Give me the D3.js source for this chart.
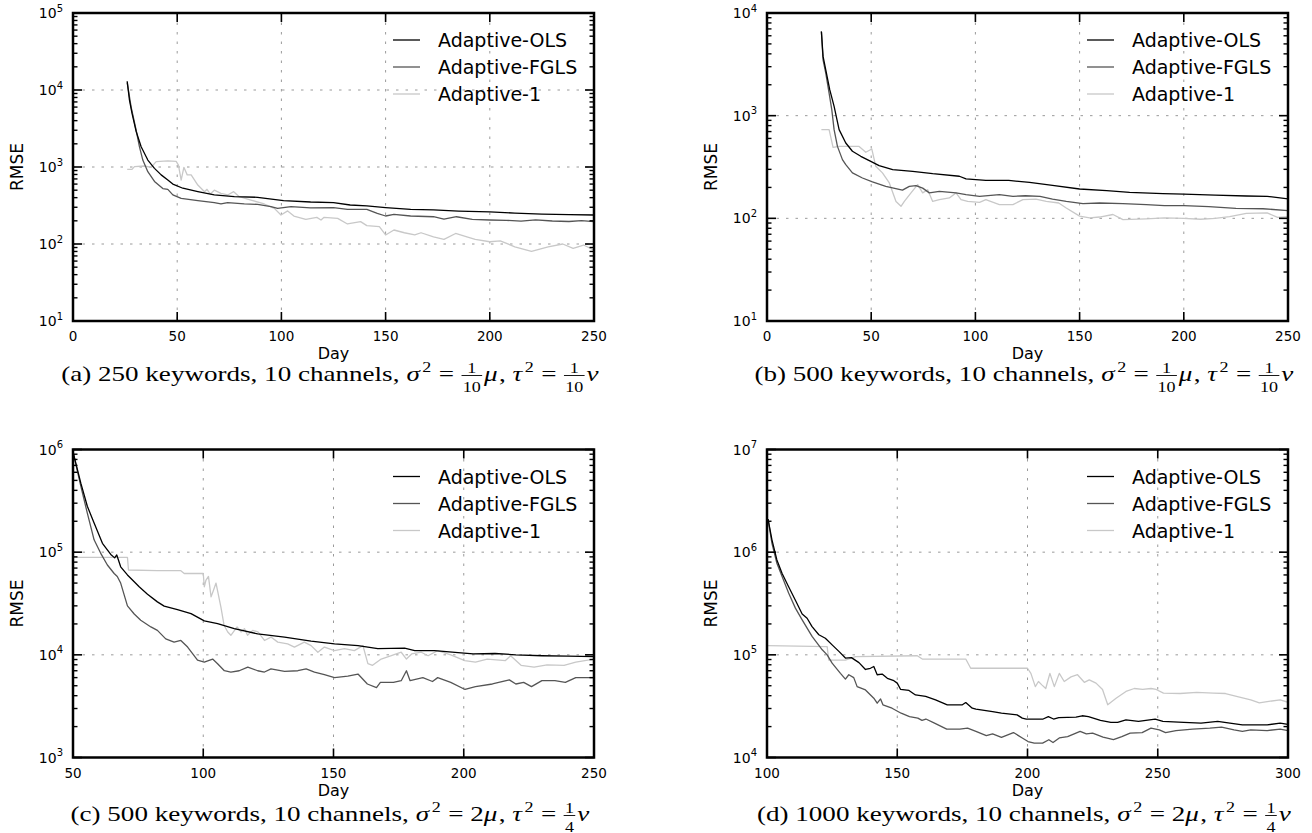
<!DOCTYPE html>
<html>
<head>
<meta charset="utf-8">
<script src="https://cdn.jsdelivr.net/npm/d3@7"></script>
<style>
body { margin: 0; background: #fff; }
</style>
</head>
<body>
<svg id="chart" width="1312" height="833"></svg>
<script>
// Nombres y colores de las series
const seriesNames = ["Adaptive-OLS", "Adaptive-FGLS", "Adaptive-1"];
const seriesColors = ["#000000", "#555555", "#c8c8c8"];

// (a) 250 keywords — [día, RMSE]
const olsA = [[26,13000],[27.1,7400],[28.3,5000],[30.3,2900],[32.7,1830],[35.9,1230],[39.1,960],[42.3,790],[45.5,680],[47.9,600],[52.7,530],[59.9,480],[67.8,435],[77.4,412],[88.6,404],[101,366],[114,351],[125,344],[133,321],[141,312],[150,297],[162,282],[173,277],[185,268],[200,262],[212,252],[225,245],[238,241],[250,238]];
const fglsA = [[26,12500],[27.9,6000],[30.3,3000],[31.9,1830],[33.5,1230],[35.9,870],[39.1,650],[43.1,525],[45.5,513],[47.9,435],[51.9,392],[59.9,366],[67.8,344],[71,331],[74.2,344],[82.2,331],[88.6,327],[95,305],[98.2,290],[104.6,305],[114,294],[125,297],[131.7,282],[141,282],[146,250],[150,231],[154,243],[162,231],[173,226],[178,211],[184,226],[191.6,209],[200,205],[208,203],[215,198],[222,206],[230,199],[238,196],[244,201],[250,195]];
const oneA = [[26,930],[28.3,930],[29.5,1010],[34.3,1030],[37.5,990],[39.9,1175],[45.5,1200],[49.5,1185],[50.6,1060],[51.9,676],[53.2,990],[54.8,790],[56.7,790],[59.9,583],[63.1,478],[64.3,513],[65.9,445],[67.8,500],[71,455],[74.2,433],[77.1,478],[79.8,412],[85.4,372],[91.8,331],[96.6,290],[99.8,238],[103,269],[106,231],[111.7,209],[117,222],[119,205],[120.5,222],[127,215],[131.7,182],[138,195],[141,173],[147,168],[150,131],[154,152],[159,140],[164,131],[167,140],[173,124],[178,115],[183.6,137],[189,124],[193,115],[200,107],[205,110],[212,92],[220,80],[228,92],[235,100],[240,88],[245,97],[250,83]];

// (b) 500 keywords, sigma^2 = mu/10
const olsB = [[26.1,6600],[26.9,3780],[28.2,2800],[30.1,1790],[32.2,1230],[34.6,731],[37.8,542],[41,450],[45,402],[49.8,359],[53.8,326],[60.3,298],[69.9,287],[79.5,272],[92.3,257],[95.5,242],[105,234],[116,234],[126,224],[137,209],[150,193],[163,186],[174,179],[190,174],[200,172],[215,168],[230,165],[240,164],[250,155]];
const fglsB = [[26.1,6600],[26.9,3500],[28.2,2600],[29.8,1660],[31.1,1140],[32.2,731],[33.8,502],[36.2,373],[37.8,333],[41,277],[45.8,247],[50.6,226],[57,205],[65,188],[68.3,205],[71.5,208],[74.7,197],[77.9,177],[82.7,183],[90.7,177],[95.5,170],[102,164],[111.5,170],[118,164],[124,166],[131,164],[137,154],[143.6,146],[151.6,139],[159.6,141],[170.8,139],[182,136],[190.7,133],[200,133],[212,130],[225,125],[238,124],[250,119]];
const oneB = [[26.1,731],[29.8,731],[31.7,492],[34.6,502],[44.2,502],[47.4,440],[50.3,473],[52.2,321],[55.4,277],[58.7,221],[61.9,146],[64.3,131],[65.9,146],[69.1,177],[72.3,213],[74.7,177],[77.1,190],[79.5,146],[82.7,152],[87.5,158],[90.7,177],[93.1,152],[96.3,146],[102,143],[105,152],[111.5,136],[118,136],[122.8,152],[129,154],[134,146],[140,141],[143.6,126],[150,105],[154.8,101],[159.6,103],[166,109],[170.8,97],[182,99],[190.7,101],[200,100],[208,98],[215,100],[222,104],[230,112],[240,113],[245,102],[250,104]];

// (c) 500 keywords, sigma^2 = 2 mu
const olsC = [[50,950000],[53,470000],[55.5,280000],[58.1,192000],[61.3,122000],[64.5,95000],[66,88000],[66.8,94000],[68.3,72000],[70.9,60000],[73.5,51500],[75.4,46000],[78.6,39000],[82.4,32800],[85,29800],[90.1,27600],[95.3,25200],[100.4,21400],[105.5,20100],[111.9,18000],[120.9,16000],[131.2,14900],[141.4,13600],[150.4,12800],[159.4,12300],[167,11500],[177.3,11600],[181.2,11000],[188.8,11000],[197.8,10500],[203.6,10200],[212,10300],[220,10000],[230,9800],[240,9700],[250,9600]];
const fglsC = [[50,950000],[53,440000],[55.5,240000],[58.1,132000],[60.6,98000],[63.2,75000],[65.8,62000],[67,58000],[68.3,50000],[70.9,30000],[73.5,25000],[76,21700],[79.9,18700],[82.4,17300],[85.6,14300],[88.8,13300],[91.4,13800],[94,11900],[97.8,8900],[100.4,8500],[103.6,9100],[105.5,8200],[108.1,7000],[110.6,6800],[113.8,7000],[117.1,7600],[120.9,7000],[123.5,6800],[126,7300],[131.2,6900],[136.3,7000],[139.5,7300],[142.7,6800],[146.5,6400],[150.4,6000],[155.5,6200],[159.4,6500],[163,5200],[166.5,4800],[168,5400],[173,5400],[176,5600],[178,7000],[179.4,5600],[184.3,6000],[188,5500],[190,6000],[195,5400],[200.5,4600],[204.5,4900],[211,5200],[217.5,5700],[220,5200],[223,5400],[226,4900],[230,5600],[235,5600],[239,5400],[243,6000],[250,6000]];
const oneC = [[50,89000],[70.9,89000],[71.3,67000],[82.4,66000],[91.4,66000],[92.7,62000],[100,62000],[100.4,46000],[101,53000],[102,58000],[103,36700],[104,43000],[104.9,50000],[106.8,29000],[108,19400],[109.4,16700],[110.6,15500],[113,18700],[114.5,16700],[115.8,18000],[117,15500],[119,17300],[121,16700],[123.5,13800],[126,14900],[128.6,13300],[132.4,12800],[135,11900],[138.8,13300],[141.4,12300],[144,10600],[146.5,11900],[150.4,11000],[154.2,11500],[158,11000],[161.3,12300],[163.2,8200],[165,7900],[168.3,9100],[172.2,9800],[176,10600],[178,9100],[180,10200],[183.7,10600],[186.3,9800],[190,11000],[195,10000],[200.4,8800],[204.5,8500],[209,9100],[216,8800],[218,9800],[222,7900],[227,7600],[232,8000],[238.5,7900],[243,8500],[250,9100]];

// (d) 1000 keywords
const olsD = [[100.4,2100000],[101.9,1320000],[103.8,840000],[105.8,620000],[108.3,460000],[110.9,340000],[113.5,250000],[115.4,227000],[117.3,188000],[119.9,157000],[122.4,145000],[125,125000],[127.6,108000],[130.1,93000],[132.4,94000],[135.3,84000],[137.8,72000],[139.7,74000],[141,77000],[142.3,64000],[144.2,65000],[146.2,59000],[148.7,56000],[150,53000],[151.3,46000],[154.5,45000],[157,40700],[160.9,39300],[164.7,36400],[169.2,32600],[175,32600],[176.3,34300],[178.8,30200],[180.2,29600],[186.6,28000],[190,27000],[196,26000],[198,24200],[199.5,23700],[206,23700],[208,25000],[210,23700],[212,24500],[218.6,24700],[221,25500],[223.4,25000],[228,23000],[232,22000],[234.6,22000],[237.8,23300],[242.6,22500],[249,23700],[252,22500],[260,22000],[266.6,21600],[273,22500],[277.7,21600],[282.5,20800],[292,20800],[297,21600],[300,21000]];
const fglsD = [[100.4,2100000],[101.9,1220000],[103.8,780000],[105.8,580000],[108.3,400000],[110.9,285000],[113.5,219000],[117.3,151000],[121.2,112000],[123.1,100000],[125,83000],[128.2,66000],[130.1,58000],[131.4,64000],[133.3,60000],[134.6,49000],[137.8,45500],[141,37800],[142.3,33800],[143.6,37200],[144.5,32600],[148,30200],[151.5,27000],[154.7,25000],[157.9,24200],[159.5,23000],[161,23700],[164.3,21600],[169,18900],[174,18900],[177,19300],[180.2,18000],[184.2,16300],[186.6,17000],[190,15700],[194.6,17500],[198,15500],[200.2,14300],[202.6,13800],[205.8,13800],[208.2,14900],[209.8,14000],[212.2,15500],[215.4,16000],[218.6,17300],[220.2,18000],[222.6,17000],[225,17300],[229,15800],[233,14900],[236.2,16000],[239.4,17300],[244,17500],[247.4,19300],[250.6,18600],[253,17500],[257,18300],[263.4,18900],[270,19300],[274.5,19800],[279.3,18600],[282.5,18000],[285.7,18600],[292,18300],[297,18900],[300,18300]];
const oneD = [[100.4,123000],[123.1,120000],[123.7,89000],[130.1,89000],[134,96000],[157.7,98000],[159.6,91000],[176.3,91000],[178.2,74000],[200,74000],[201.3,66000],[203,49000],[204.2,55000],[205.5,51000],[207,47000],[208.6,66000],[210.3,49000],[212.2,66000],[214.1,55000],[216.7,61000],[219.2,64000],[221.8,54000],[223.7,57000],[226.3,53000],[228.8,46000],[230.8,32600],[234,37800],[237.8,44000],[241,47000],[244.2,46000],[247.4,47000],[249.4,46000],[252.2,42400],[258.6,42000],[265,43000],[271.4,42400],[276,42000],[281,39000],[285.7,36500],[289,34000],[292,35000],[297,36500],[300,34500]];

// Ejes
const xDomains = [[0, 250], [0, 250], [50, 250], [100, 300]];
const xTickValues = [[0, 50, 100, 150, 200, 250], [0, 50, 100, 150, 200, 250], [50, 100, 150, 200, 250], [100, 150, 200, 250, 300]];
const yDomains = [[1e1, 1e5], [1e1, 1e4], [1e3, 1e6], [1e4, 1e7]];

// Pies de figura (texto normal, m = matemática en cursiva, sup = exponente, frac = fracción)
const captions = [
    [{t: "(a) 250 keywords, 10 channels, "}, {m: "σ"}, {sup: "2"}, {t: " = "}, {frac: ["1", "10"]}, {m: "μ"}, {t: ", "}, {m: "τ"}, {sup: "2"}, {t: " = "}, {frac: ["1", "10"]}, {m: "ν"}],
    [{t: "(b) 500 keywords, 10 channels, "}, {m: "σ"}, {sup: "2"}, {t: " = "}, {frac: ["1", "10"]}, {m: "μ"}, {t: ", "}, {m: "τ"}, {sup: "2"}, {t: " = "}, {frac: ["1", "10"]}, {m: "ν"}],
    [{t: "(c) 500 keywords, 10 channels, "}, {m: "σ"}, {sup: "2"}, {t: " = 2"}, {m: "μ"}, {t: ", "}, {m: "τ"}, {sup: "2"}, {t: " = "}, {frac: ["1", "4"]}, {m: "ν"}],
    [{t: "(d) 1000 keywords, 10 channels, "}, {m: "σ"}, {sup: "2"}, {t: " = 2"}, {m: "μ"}, {t: ", "}, {m: "τ"}, {sup: "2"}, {t: " = "}, {frac: ["1", "4"]}, {m: "ν"}]
];

const panelSeries = [[olsA, fglsA, oneA], [olsB, fglsB, oneB], [olsC, fglsC, oneC], [olsD, fglsD, oneD]];

// Disposición de cada subgráfico
const plotW = 521, plotH = 308;
const layout = [
    {left: 73, top: 13, capY: 381},
    {left: 767, top: 13, capY: 381},
    {left: 73, top: 449.5, capY: 821},
    {left: 767, top: 449.5, capY: 821}
];

const svg = d3.select("#chart");
const sansFont = "'DejaVu Sans', 'Bitstream Vera Sans', sans-serif";
const serifFont = "'Liberation Serif', 'Times New Roman', serif";

function drawPanel(i) {
    const L = layout[i];
    const x = d3.scaleLinear().domain(xDomains[i]).range([L.left, L.left + plotW]);
    const y = d3.scaleLog().domain(yDomains[i]).range([L.top + plotH, L.top]);
    const g = svg.append("g");
    const right = L.left + plotW, bottom = L.top + plotH;

    // Rejilla punteada
    g.selectAll(".gx").data(xTickValues[i]).enter().append("line")
        .attr("x1", d => x(d)).attr("x2", d => x(d))
        .attr("y1", L.top).attr("y2", bottom)
        .attr("stroke", "#9a9a9a").attr("stroke-width", 1).attr("stroke-dasharray", "2.5,7");

    const e0 = Math.log10(yDomains[i][0]), e1 = Math.log10(yDomains[i][1]);
    const decades = d3.range(e0, e1 + 1).map(e => Math.pow(10, e));
    g.selectAll(".gy").data(decades).enter().append("line")
        .attr("x1", L.left).attr("x2", right)
        .attr("y1", d => y(d)).attr("y2", d => y(d))
        .attr("stroke", "#9a9a9a").attr("stroke-width", 1).attr("stroke-dasharray", "2.5,7");

    // Líneas de datos
    const clipId = "clip" + i;
    g.append("clipPath").attr("id", clipId).append("rect")
        .attr("x", L.left).attr("y", L.top).attr("width", plotW).attr("height", plotH);
    const line = d3.line().x(d => x(d[0])).y(d => y(d[1]));
    const lines = g.append("g").attr("clip-path", `url(#${clipId})`);
    [2, 1, 0].forEach(s => {
        lines.append("path").datum(panelSeries[i][s])
            .attr("d", line)
            .attr("fill", "none")
            .attr("stroke", seriesColors[s])
            .attr("stroke-width", 1.3)
            .attr("stroke-linejoin", "round");
    });

    // Marcas menores y mayores del eje Y (hacia dentro, ambos lados)
    const minor = [];
    for (let e = e0; e < e1; e++) {
        for (let m = 2; m <= 9; m++) minor.push(m * Math.pow(10, e));
    }
    [[L.left, 1], [right, -1]].forEach(([x0, dir]) => {
        g.selectAll(null).data(minor).enter().append("line")
            .attr("x1", x0).attr("x2", x0 + dir * 4.5)
            .attr("y1", d => y(d)).attr("y2", d => y(d))
            .attr("stroke", "#000").attr("stroke-width", 1.4);
        g.selectAll(null).data(decades).enter().append("line")
            .attr("x1", x0).attr("x2", x0 + dir * 9)
            .attr("y1", d => y(d)).attr("y2", d => y(d))
            .attr("stroke", "#000").attr("stroke-width", 1.6);
    });
    [[L.top, 1], [bottom, -1]].forEach(([y0, dir]) => {
        g.selectAll(null).data(xTickValues[i]).enter().append("line")
            .attr("x1", d => x(d)).attr("x2", d => x(d))
            .attr("y1", y0).attr("y2", y0 + dir * 9)
            .attr("stroke", "#000").attr("stroke-width", 1.6);
    });

    // Marco
    g.append("rect")
        .attr("x", L.left).attr("y", L.top).attr("width", plotW).attr("height", plotH)
        .attr("fill", "none").attr("stroke", "#000").attr("stroke-width", 2.5);

    // Etiquetas de los ejes
    g.selectAll(".xt").data(xTickValues[i]).enter().append("text")
        .attr("x", d => x(d)).attr("y", bottom + 20)
        .attr("text-anchor", "middle")
        .attr("font-family", sansFont).attr("font-size", 13.5)
        .text(d => d);

    const yt = g.selectAll(".yt").data(decades).enter().append("text")
        .attr("x", L.left - 10).attr("y", d => y(d) + 5)
        .attr("text-anchor", "end")
        .attr("font-family", sansFont).attr("font-size", 14);
    yt.append("tspan").text("10");
    yt.append("tspan").attr("dy", -6.5).attr("font-size", 10).text(d => Math.round(Math.log10(d)));

    g.append("text")
        .attr("x", L.left + plotW / 2).attr("y", bottom + 38)
        .attr("text-anchor", "middle")
        .attr("font-family", sansFont).attr("font-size", 16)
        .text("Day");

    g.append("text")
        .attr("transform", `translate(${L.left - 56},${L.top + plotH / 2}) rotate(-90)`)
        .attr("text-anchor", "middle")
        .attr("dominant-baseline", "central")
        .attr("font-family", sansFont).attr("font-size", 17)
        .text("RMSE");

    // Leyenda sin marco
    seriesNames.forEach((name, s) => {
        const ly = L.top + 27 + 27 * s;
        g.append("line")
            .attr("x1", right - 201).attr("x2", right - 174)
            .attr("y1", ly).attr("y2", ly)
            .attr("stroke", seriesColors[s]).attr("stroke-width", 1.3);
        g.append("text")
            .attr("x", right - 156).attr("y", ly + 7)
            .attr("font-family", sansFont).attr("font-size", 19)
            .text(name);
    });
}

// Dibuja un pie de figura; devuelve el grupo y su ancho natural
function drawCaption(tokens) {
    const cap = svg.append("g").attr("font-family", serifFont).attr("font-size", 21);
    let cx = 0;
    const nb = s => s.replace(/ /g, "\u00a0");
    tokens.forEach(tk => {
        if (tk.frac) {
            const num = cap.append("text").attr("font-size", 14).attr("text-anchor", "middle").text(tk.frac[0]);
            const den = cap.append("text").attr("font-size", 14).attr("text-anchor", "middle").text(tk.frac[1]);
            const w = Math.max(num.node().getComputedTextLength(), den.node().getComputedTextLength()) + 3;
            num.attr("x", cx + w / 2).attr("y", -8.5);
            den.attr("x", cx + w / 2).attr("y", 10.5);
            cap.append("line")
                .attr("x1", cx + 0.5).attr("x2", cx + w - 0.5)
                .attr("y1", -5.5).attr("y2", -5.5)
                .attr("stroke", "#000").attr("stroke-width", 0.9);
            cx += w + 1;
        } else if (tk.sup) {
            const t = cap.append("text").attr("x", cx + 1).attr("y", -9.5).attr("font-size", 14).text(tk.sup);
            cx += t.node().getComputedTextLength() + 1.5;
        } else {
            const t = cap.append("text").attr("x", cx).attr("y", 0)
                .attr("font-style", tk.m ? "italic" : "normal")
                .text(nb(tk.t || tk.m));
            cx += t.node().getComputedTextLength() + (tk.m ? 1 : 0);
        }
    });
    return {cap, width: cx};
}

d3.range(4).forEach(drawPanel);

const caps = captions.map(drawCaption);
// Escala horizontal común para que (c) ocupe el ancho del gráfico
const k = (plotW - 1) / caps[2].width;
caps.forEach((c, i) => {
    const L = layout[i];
    const cx = L.left + plotW / 2 - 3;
    c.cap.attr("transform", `translate(${cx - c.width * k / 2},${L.capY}) scale(${k},1)`);
});
</script>
</body>
</html>
